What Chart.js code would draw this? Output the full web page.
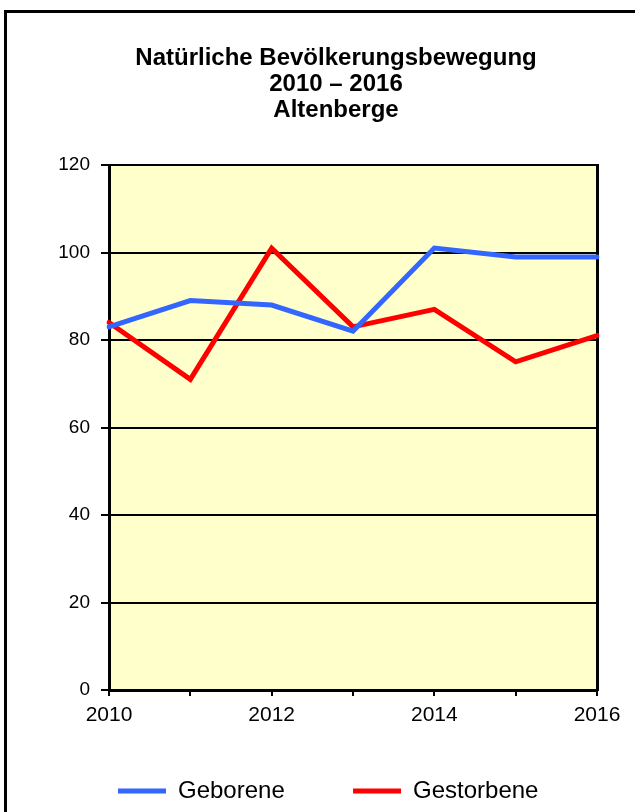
<!DOCTYPE html>
<html>
<head>
<meta charset="utf-8">
<script src="https://cdn.jsdelivr.net/npm/chart.js@4"></script>
<style>
  html, body { margin: 0; padding: 0; background: #fff; overflow: hidden; }
  #rahmen { position: absolute; left: 4px; top: 10px; width: 700px; height: 900px; border: 3px solid #000; }
  #grafik { position: absolute; left: 0; top: 0; }
</style>
</head>
<body>
<div id="rahmen"></div>
<canvas id="grafik" width="670" height="813"></canvas>
<script>
// Daten
const jahre = ['2010', '2011', '2012', '2013', '2014', '2015', '2016'];
const geborene = [83, 89, 88, 82, 101, 99, 99];
const gestorbene = [84, 71, 101, 83, 87, 75, 81];
const titelZeilen = ['Natürliche Bevölkerungsbewegung', '2010 – 2016', 'Altenberge'];

/* gelber Hintergrund im Diagrammbereich */
const hintergrund = {
    id: 'hintergrund',
    beforeDraw(chart) {
        const {ctx, chartArea} = chart;
        ctx.save();
        ctx.fillStyle = '#FFFFCC';
        ctx.fillRect(chartArea.left, chartArea.top, chartArea.right - chartArea.left, chartArea.bottom - chartArea.top);
        ctx.restore();
    }
};

const schrift = 'Arial, "Liberation Sans"';

const canvas = document.getElementById('grafik');
const grafik = new Chart(canvas, {
    type: 'line',
    data: {
        labels: jahre,
        datasets: [
            {
                label: 'Geborene',
                data: geborene,
                borderColor: '#3366FF',
                backgroundColor: '#3366FF',
                borderWidth: 5,
                borderCapStyle: 'round',
                borderJoinStyle: 'miter',
                pointRadius: 0,
                tension: 0
            },
            {
                label: 'Gestorbene',
                data: gestorbene,
                borderColor: '#FF0000',
                backgroundColor: '#FF0000',
                borderWidth: 5,
                borderCapStyle: 'round',
                borderJoinStyle: 'miter',
                pointRadius: 0,
                tension: 0
            }
        ]
    },
    options: {
        responsive: false,
        animation: false,
        layout: { padding: { left: 49.7, right: 47.7, top: 0, bottom: 0 } },
        plugins: {
            title: {
                display: true,
                text: titelZeilen,
                color: '#000',
                font: { family: schrift, size: 24, weight: 'bold', lineHeight: 1.1 },
                padding: { top: 44.8, bottom: 41 }
            },
            legend: {
                position: 'bottom',
                align: 'start',
                labels: {
                    usePointStyle: true,
                    pointStyle: 'line',
                    pointStyleWidth: 48,
                    boxHeight: 24,
                    padding: 68.3,
                    color: '#000',
                    font: { family: schrift, size: 24 }
                }
            },
            tooltip: { enabled: false }
        },
        scales: {
            x: {
                offset: false,
                grid: { drawOnChartArea: false, drawTicks: true, tickLength: 6, color: '#000', lineWidth: 2 },
                border: { display: true, color: '#000', width: 3 },
                ticks: {
                    autoSkip: false,
                    maxRotation: 0,
                    mirror: true,
                    padding: -37.6,
                    color: '#000',
                    font: { family: schrift, size: 21 },
                    callback: function (value, index) {
                        return index % 2 === 0 ? jahre[index] : '';
                    }
                },
                afterFit: function (scale) { scale.height = 20.7; }
            },
            y: {
                min: 0,
                max: 120,
                grid: { color: '#000', lineWidth: 2, tickLength: 8 },
                border: { display: true, color: '#000', width: 3 },
                ticks: {
                    stepSize: 20,
                    padding: 11,
                    color: '#000',
                    font: { family: schrift, size: 19 }
                },
                afterFit: function (scale) { scale.width = 59.3; }
            },
            y2: {
                display: true,
                position: 'right',
                grid: { display: false },
                ticks: { display: false },
                border: { display: true, color: '#000', width: 3 },
                afterFit: function (scale) { scale.width = 25.3; }
            }
        }
    },
    plugins: [hintergrund]
});
</script>
</body>
</html>
